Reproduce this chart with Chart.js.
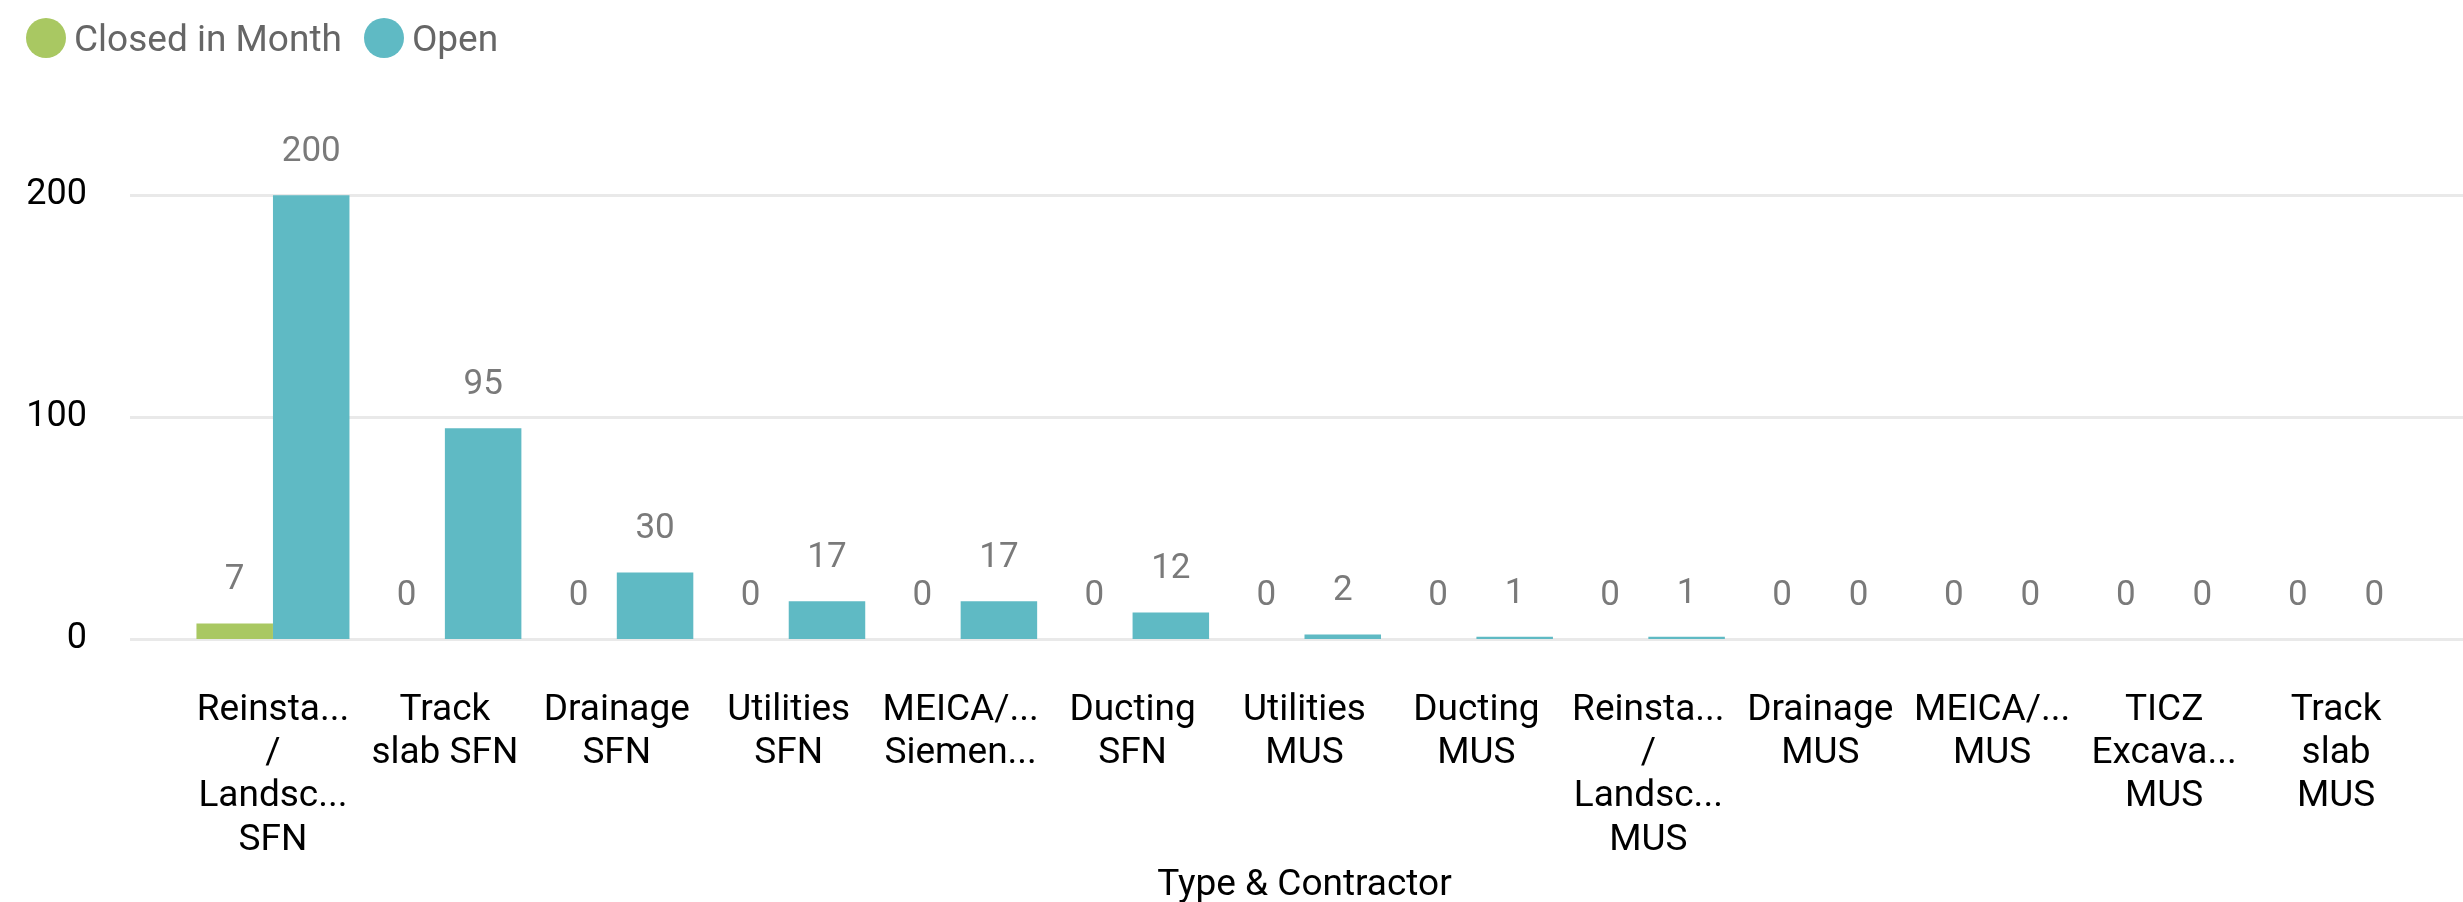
<!DOCTYPE html>
<html>
<head>
<meta charset="utf-8">
<script src="https://cdn.jsdelivr.net/npm/chart.js@4/dist/chart.umd.min.js"></script>
<style>
  html, body { margin: 0; padding: 0; background: #ffffff; }
  #wrap { position: relative; width: 2463px; height: 902px; }
  #legend { position: absolute; left: 26px; top: 18px; height: 40px; display: flex; align-items: center;
            font-family: Roboto, sans-serif; font-size: 37px; color: #666666; white-space: nowrap; }
  .dot { display: inline-block; width: 40px; height: 40px; border-radius: 50%; margin-right: 8px; }
  .item { display: flex; align-items: center; margin-right: 22px; }
</style>
</head>
<body>
<div id="wrap">
  <canvas id="c" width="2463" height="902"></canvas>
  <div id="legend"></div>
</div>
<script>
const categories = [
  ["Reinsta...", "/", "Landsc...", "SFN"],
  ["Track", "slab SFN"],
  ["Drainage", "SFN"],
  ["Utilities", "SFN"],
  ["MEICA/...", "Siemen..."],
  ["Ducting", "SFN"],
  ["Utilities", "MUS"],
  ["Ducting", "MUS"],
  ["Reinsta...", "/", "Landsc...", "MUS"],
  ["Drainage", "MUS"],
  ["MEICA/...", "MUS"],
  ["TICZ", "Excava...", "MUS"],
  ["Track", "slab", "MUS"]
];
const seriesNames = ["Closed in Month", "Open"];
const closedInMonth = [7, 0, 0, 0, 0, 0, 0, 0, 0, 0, 0, 0, 0];
const openValues = [200, 95, 30, 17, 17, 12, 2, 1, 1, 0, 0, 0, 0];
const yTickValues = [0, 100, 200];
const xAxisTitle = "Type & Contractor";

const colors = ["#A9C862", "#5FBAC4"];

// HTML legend
const legendEl = document.getElementById('legend');
seriesNames.forEach((n, i) => {
  const it = document.createElement('span');
  it.className = 'item';
  const d = document.createElement('span');
  d.className = 'dot';
  d.style.background = colors[i];
  it.appendChild(d);
  it.appendChild(document.createTextNode(n));
  legendEl.appendChild(it);
});

const gridPlugin = {
  id: 'wideGrid',
  beforeDatasetsDraw(chart) {
    const y = chart.scales.y;
    const ctx = chart.ctx;
    ctx.save();
    ctx.strokeStyle = '#E9E9E9';
    ctx.lineWidth = 3;
    yTickValues.forEach(v => {
      const py = Math.round(y.getPixelForValue(v)) + 0.5;
      ctx.beginPath();
      ctx.moveTo(130, py);
      ctx.lineTo(2463, py);
      ctx.stroke();
    });
    ctx.restore();
  }
};

const labelPlugin = {
  id: 'valueLabels',
  afterDatasetsDraw(chart) {
    const ctx = chart.ctx;
    ctx.save();
    ctx.font = '35px Roboto, sans-serif';
    ctx.fillStyle = '#7A7A7A';
    ctx.textAlign = 'center';
    ctx.textBaseline = 'middle';
    chart.data.datasets.forEach((ds, di) => {
      const meta = chart.getDatasetMeta(di);
      meta.data.forEach((bar, i) => {
        ctx.fillText(String(ds.data[i]), bar.x, bar.y - 43);
      });
    });
    ctx.restore();
  }
};

new Chart(document.getElementById('c'), {
  type: 'bar',
  data: {
    labels: categories,
    datasets: [
      { label: seriesNames[0], data: closedInMonth, backgroundColor: colors[0], borderWidth: 0 },
      { label: seriesNames[1], data: openValues, backgroundColor: colors[1], borderWidth: 0 }
    ]
  },
  options: {
    responsive: false,
    devicePixelRatio: 1,
    animation: false,
    layout: { padding: { left: 0, right: 41, top: 151, bottom: 0 } },
    plugins: { legend: { display: false }, tooltip: { enabled: false } },
    datasets: { bar: { categoryPercentage: 0.89, barPercentage: 1.0 } },
    scales: {
      x: {
        grid: { display: false, drawTicks: false },
        border: { display: false },
        ticks: {
          autoSkip: false, maxRotation: 0, minRotation: 0, padding: 50,
          color: '#000000',
          font: { family: 'Roboto, sans-serif', size: 37, lineHeight: 1.17 }
        },
        title: {
          display: true, text: xAxisTitle, color: '#000000', padding: 0,
          font: { family: 'Roboto, sans-serif', size: 37, lineHeight: '32px' }
        },
        afterFit(scale) { scale.height = 902 - 639; }
      },
      y: {
        min: 0, max: 220,
        grid: { display: false, drawTicks: false },
        border: { display: false },
        afterBuildTicks(scale) { scale.ticks = yTickValues.map(v => ({ value: v })); },
        ticks: {
          padding: 100, color: '#000000',
          font: { family: 'Roboto, sans-serif', size: 36 }
        },
        afterFit(scale) { scale.width = 187; }
      }
    }
  },
  plugins: [gridPlugin, labelPlugin]
});
</script>
</body>
</html>
